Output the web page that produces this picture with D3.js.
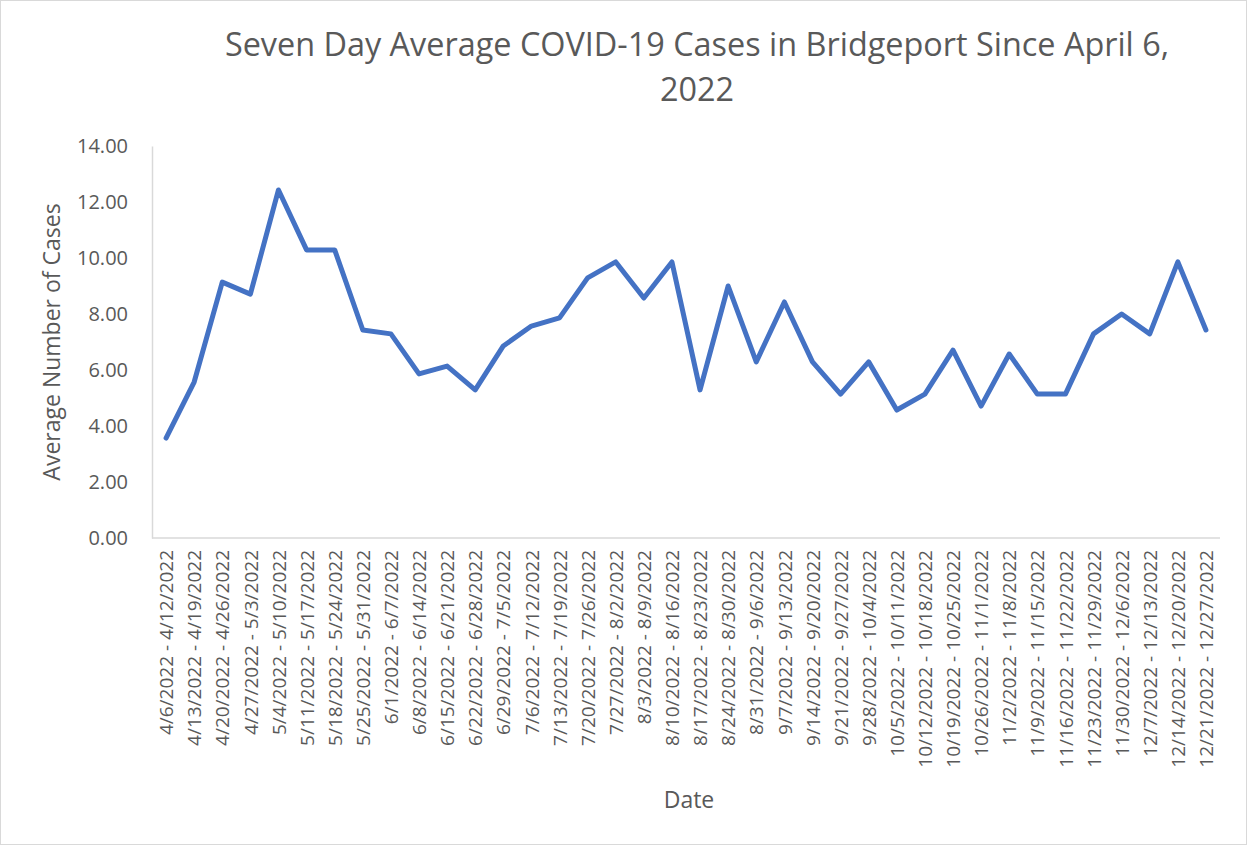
<!DOCTYPE html>
<html>
<head>
<meta charset="utf-8">
<script src="https://cdn.jsdelivr.net/npm/d3@7"></script>
<style>
  body { margin: 0; background: #fff; }
  text { font-family: "Open Sans", sans-serif; fill: #595959; }
</style>
</head>
<body>
<script>
  // weekly ranges
  var weeks = ["4/6/2022 - 4/12/2022", "4/13/2022 - 4/19/2022", "4/20/2022 - 4/26/2022",
    "4/27/2022 - 5/3/2022", "5/4/2022 - 5/10/2022", "5/11/2022 - 5/17/2022",
    "5/18/2022 - 5/24/2022", "5/25/2022 - 5/31/2022", "6/1/2022 - 6/7/2022",
    "6/8/2022 - 6/14/2022", "6/15/2022 - 6/21/2022", "6/22/2022 - 6/28/2022",
    "6/29/2022 - 7/5/2022", "7/6/2022 - 7/12/2022", "7/13/2022 - 7/19/2022",
    "7/20/2022 - 7/26/2022", "7/27/2022 - 8/2/2022", "8/3/2022 - 8/9/2022",
    "8/10/2022 - 8/16/2022", "8/17/2022 - 8/23/2022", "8/24/2022 - 8/30/2022",
    "8/31/2022 - 9/6/2022", "9/7/2022 - 9/13/2022", "9/14/2022 - 9/20/2022",
    "9/21/2022 - 9/27/2022", "9/28/2022 - 10/4/2022", "10/5/2022 - 10/11/2022",
    "10/12/2022 - 10/18/2022", "10/19/2022 - 10/25/2022", "10/26/2022 - 11/1/2022",
    "11/2/2022 - 11/8/2022", "11/9/2022 - 11/15/2022", "11/16/2022 - 11/22/2022",
    "11/23/2022 - 11/29/2022", "11/30/2022 - 12/6/2022", "12/7/2022 - 12/13/2022",
    "12/14/2022 - 12/20/2022", "12/21/2022 - 12/27/2022"];

  var avgCases = [3.57, 5.57, 9.14, 8.71, 12.43, 10.29, 10.29, 7.43, 7.29, 5.86,
    6.14, 5.29, 6.86, 7.57, 7.86, 9.29, 9.86, 8.57, 9.86, 5.29,
    9.00, 6.29, 8.43, 6.29, 5.14, 6.29, 4.57, 5.14, 6.71, 4.71,
    6.57, 5.14, 5.14, 7.29, 8.00, 7.29, 9.86, 7.43];

  var yTicks = [0, 2, 4, 6, 8, 10, 12, 14];

  var width = 1247,
    height = 845;

  var plotLeft = 152, plotRight = 1220, plotTop = 146, plotBottom = 538;

  var svg = d3.select("body").append("svg")
    .attr("width", width)
    .attr("height", height);

  // chart border
  svg.append("rect")
    .attr("x", 0.5).attr("y", 0.5)
    .attr("width", width - 1).attr("height", height - 1)
    .attr("fill", "#fff")
    .attr("stroke", "#d9d9d9");

  var x = d3.scalePoint()
    .domain(weeks)
    .range([plotLeft, plotRight])
    .padding(0.5);

  var y = d3.scaleLinear()
    .domain([0, 14])
    .range([plotBottom, plotTop]);

  // title
  var title = svg.append("text")
    .attr("text-anchor", "middle")
    .style("font-size", "32.4px");
  title.append("tspan").attr("x", 697).attr("y", 56)
    .text("Seven Day Average COVID-19 Cases in Bridgeport Since April 6,");
  title.append("tspan").attr("x", 697).attr("y", 101)
    .text("2022");

  // y axis
  var yAxis = svg.append("g")
    .attr("transform", "translate(" + plotLeft + ",0)")
    .call(d3.axisLeft(y).tickValues(yTicks).tickSize(0).tickPadding(24)
      .tickFormat(d3.format(".2f")));
  yAxis.select(".domain").attr("stroke", "#d9d9d9").attr("stroke-width", 1.5);
  yAxis.selectAll("text").style("font-size", "20px").attr("fill", "#595959");

  // x axis
  var xAxis = svg.append("g")
    .attr("transform", "translate(0," + plotBottom + ")")
    .call(d3.axisBottom(x).tickSize(0).tickSizeOuter(0));
  xAxis.select(".domain").attr("d", "M" + plotLeft + ",0H" + plotRight)
    .attr("stroke", "#d9d9d9").attr("stroke-width", 1.5);
  xAxis.selectAll("text")
    .style("font-size", "19px")
    .attr("fill", "#595959")
    .attr("text-anchor", "end")
    .attr("transform", "rotate(-90)")
    .attr("x", -12)
    .attr("y", 0)
    .attr("dy", "0.35em");

  // axis titles
  svg.append("text")
    .attr("transform", "translate(52," + (plotTop + plotBottom) / 2 + ") rotate(-90)")
    .attr("text-anchor", "middle")
    .attr("dy", "0.35em")
    .style("font-size", "23px")
    .text("Average Number of Cases");

  svg.append("text")
    .attr("x", 689)
    .attr("y", 808)
    .attr("text-anchor", "middle")
    .style("font-size", "23px")
    .text("Date");

  // the line
  var line = d3.line()
    .x(function(d, i) { return x(weeks[i]); })
    .y(function(d) { return y(d); });

  svg.append("path")
    .datum(avgCases)
    .attr("fill", "none")
    .attr("stroke", "#4472c4")
    .attr("stroke-width", 5)
    .attr("stroke-linejoin", "round")
    .attr("stroke-linecap", "round")
    .attr("d", line);
</script>
</body>
</html>
